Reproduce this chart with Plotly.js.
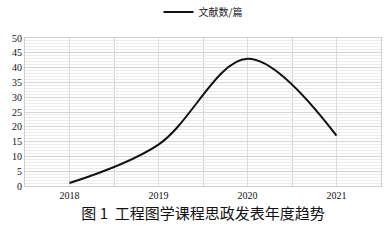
<!DOCTYPE html>
<html><head><meta charset="utf-8">
<script src="https://cdn.plot.ly/plotly-3.0.1.min.js"></script>
<style>html,body{margin:0;padding:0;background:#fff}#c{width:389px;height:240px}</style>
</head><body><div id="c"></div>
<script>
const categories = ["2018", "2019", "2020", "2021"];
const papers = [1, 14, 43, 17];
const seriesName = "文献数/篇";
const chartTitle = "图 1  工程图学课程思政发表年度趋势";
const yTicks = [0, 5, 10, 15, 20, 25, 30, 35, 40, 45, 50];

const idx = categories.map((c, i) => i);
const tickFont = {family: "Liberation Serif, DejaVu Serif, serif", size: 10, color: "#111"};

Plotly.newPlot("c", [{
  x: idx, y: papers, name: seriesName, type: "scatter", mode: "lines",
  line: {color: "#111", width: 2, shape: "spline", smoothing: 1}
}], {
  width: 389, height: 240,
  margin: {l: 25, r: 8, t: 38, b: 54},
  paper_bgcolor: "#fff", plot_bgcolor: "#fff",
  showlegend: true,
  legend: {orientation: "h", x: 0.5, xanchor: "center", yref: "container", y: 0.95, yanchor: "middle",
    itemwidth: 30,
    font: {family: "Noto Sans CJK SC, sans-serif", size: 10, color: "#222"}},
  title: {text: chartTitle, x: 0.5, xanchor: "center", xref: "paper", y: 0.11, yanchor: "middle",
    font: {family: "Noto Sans CJK SC, sans-serif", size: 15, color: "#111"}},
  xaxis: {
    range: [-0.5, 3.5], tickmode: "array", tickvals: idx, ticktext: categories,
    showgrid: true, gridcolor: "#dcdcdc", gridwidth: 1,
    minor: {tickmode: "linear", tick0: -0.5, dtick: 1, showgrid: true, gridcolor: "#d0d0d0", gridwidth: 1},
    showline: true, linecolor: "#cfcfcf", mirror: true, zeroline: false,
    ticks: "", tickfont: tickFont, ticklen: 0
  },
  yaxis: {
    range: [0, 50], tickmode: "array", tickvals: yTicks,
    showgrid: true, gridcolor: "#d6d6d6", gridwidth: 1,
    minor: {dtick: 1, showgrid: true, gridcolor: "#ececec", gridwidth: 1},
    showline: true, linecolor: "#cfcfcf", mirror: true, zeroline: false,
    ticks: "", tickfont: tickFont
  }
}, {staticPlot: true, displayModeBar: false});
</script></body></html>
